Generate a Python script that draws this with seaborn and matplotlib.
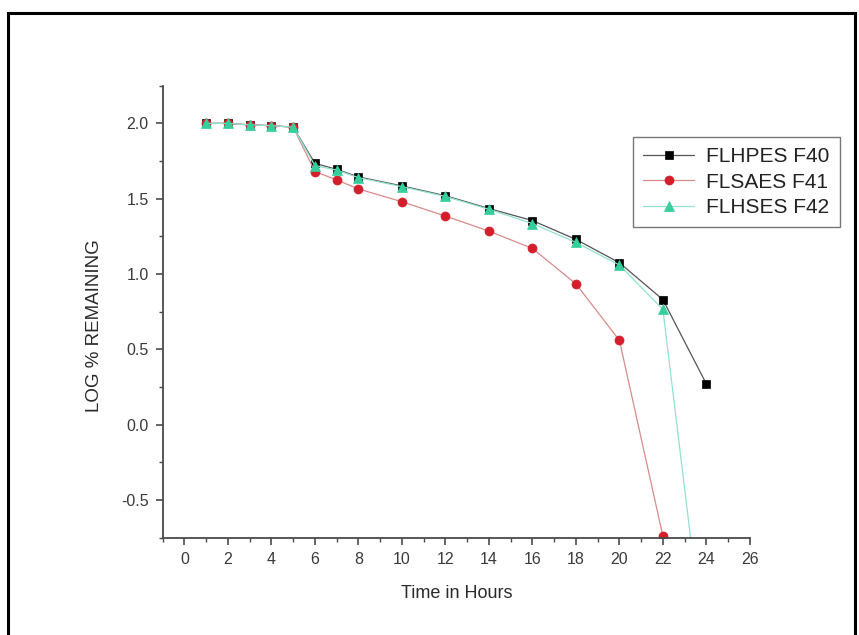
import numpy as np
import pandas as pd
import seaborn as sns
import matplotlib
matplotlib.use("Agg")
import matplotlib.pyplot as plt
from matplotlib.ticker import MultipleLocator, FormatStrFormatter
from matplotlib.patches import Rectangle

# Release profile data (log of % drug remaining vs time)
hours_f40 = [1, 2, 3, 4, 5, 6, 7, 8, 10, 12, 14, 16, 18, 20, 22, 24]
log_f40 = [2.00, 2.00, 1.99, 1.985, 1.975, 1.735, 1.695, 1.645, 1.585, 1.52,
           1.435, 1.355, 1.23, 1.075, 0.83, 0.27]

hours_f41 = [1, 2, 3, 4, 5, 6, 7, 8, 10, 12, 14, 16, 18, 20, 22]
log_f41 = [2.00, 2.00, 1.99, 1.985, 1.975, 1.68, 1.625, 1.565, 1.48, 1.385,
           1.285, 1.17, 0.935, 0.56, -0.74]

hours_f42 = [1, 2, 3, 4, 5, 6, 7, 8, 10, 12, 14, 16, 18, 20, 22, 24]
log_f42 = [2.00, 2.00, 1.99, 1.985, 1.975, 1.72, 1.69, 1.64, 1.58, 1.515,
           1.43, 1.335, 1.21, 1.06, 0.765, -1.62]

series_names = ["FLHPES F40", "FLSAES F41", "FLHSES F42"]

sns.set_theme(style="white")
plt.rcParams["font.family"] = ["Liberation Sans", "DejaVu Sans"]

fig = plt.figure(figsize=(8.59, 6.35), dpi=100)
ax = fig.add_axes([0.1894, 0.1532, 0.6836, 0.7118])

styles = [
    dict(marker="s", line="#555555", face="#000000", ms=6.0),
    dict(marker="o", line="#d98a8a", face="#d21f2b", ms=6.5),
    dict(marker="^", line="#8fe3d0", face="#35cf9b", ms=7.5),
]
datasets = [(hours_f40, log_f40), (hours_f41, log_f41), (hours_f42, log_f42)]

for name, (hx, hy), st in zip(series_names, datasets, styles):
    df = pd.DataFrame({"Time": hx, "LogRemaining": hy})
    sns.lineplot(data=df, x="Time", y="LogRemaining", ax=ax, label=name,
                 color=st["line"], linewidth=0.9, marker=st["marker"],
                 markersize=st["ms"], markerfacecolor=st["face"],
                 markeredgecolor=st["face"], markeredgewidth=0.5)

ax.set_xlim(-1, 26)
ax.set_ylim(-0.75, 2.25)
ax.xaxis.set_major_locator(MultipleLocator(2))
ax.xaxis.set_minor_locator(MultipleLocator(1))
ax.yaxis.set_major_locator(MultipleLocator(0.5))
ax.yaxis.set_minor_locator(MultipleLocator(0.25))
ax.xaxis.set_major_formatter(FormatStrFormatter("%d"))
ax.yaxis.set_major_formatter(FormatStrFormatter("%.1f"))

spine_col = "#4a4a4a"
for side in ["top", "right"]:
    ax.spines[side].set_visible(False)
for side in ["left", "bottom"]:
    ax.spines[side].set_color(spine_col)
    ax.spines[side].set_linewidth(1.3)

ax.tick_params(which="major", direction="out", length=5, width=1.2,
               color=spine_col, labelsize=11.5, labelcolor="#3a3a3a",
               bottom=True, left=True, pad=5)
ax.tick_params(which="minor", direction="out", length=3, width=1.0,
               color=spine_col, bottom=True, left=True)

ax.set_xlabel("Time in Hours", fontsize=13, color="#2a2a2a")
ax.set_ylabel("LOG % REMAINING", fontsize=13.5, color="#2a2a2a")
ax.xaxis.set_label_coords(0.5, -0.105)
ax.yaxis.set_label_coords(-0.102, 0.47)

leg = ax.legend(loc="upper left", bbox_to_anchor=(633 / 859, 1 - 137 / 635),
                bbox_transform=fig.transFigure, borderaxespad=0,
                fontsize=15, frameon=True, fancybox=False,
                edgecolor="#555555", handlelength=2.45, handletextpad=0.55,
                labelspacing=0.3, borderpad=0.5)
leg.get_frame().set_linewidth(1.0)
for t in leg.get_texts():
    t.set_color("#222222")

# Outer frame around the figure
fig.add_artist(Rectangle((7.5 / 859, -0.05), (855 - 7.5) / 859, 1.05 - 12.5 / 635,
                         transform=fig.transFigure, fill=False,
                         edgecolor="black", linewidth=2.2))

fig.savefig("out.png", dpi=100)
